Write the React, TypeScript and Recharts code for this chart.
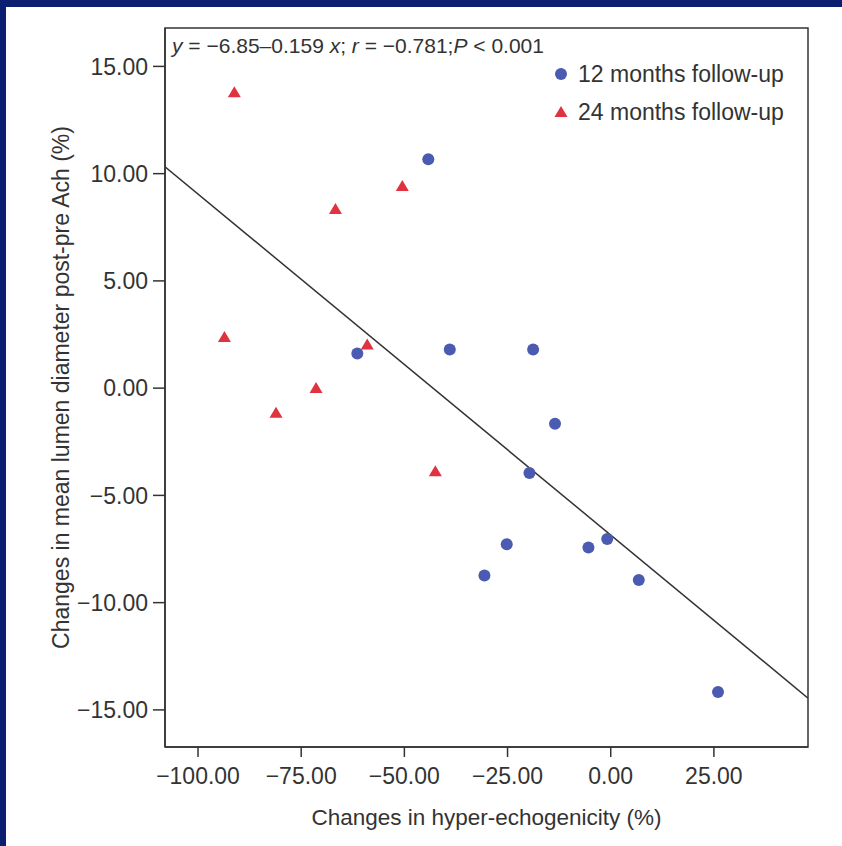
import React from 'react';
import { ScatterChart, Scatter, XAxis, YAxis, ReferenceLine, ReferenceArea, Legend } from 'recharts';

// 12 months follow-up (blue circles)
const months12X = [-44.2, -61.4, -39.0, -18.8, -13.5, -19.7, -25.2, -30.6, -5.4, -0.85, 6.8, 26.0];
const months12Y = [10.67, 1.62, 1.8, 1.8, -1.66, -3.96, -7.28, -8.74, -7.43, -7.03, -8.94, -14.17];
// 24 months follow-up (red triangles)
const months24X = [-91.2, -50.5, -66.7, -93.6, -59.0, -71.4, -81.1, -42.5];
const months24Y = [13.79, 9.42, 8.35, 2.39, 2.04, 0.01, -1.15, -3.87];

const xTicks = [-100, -75, -50, -25, 0, 25];
const yTicks = [-15, -10, -5, 0, 5, 10, 15];
const xDomain = [-108, 47.8];
const yDomain = [-16.73, 16.79];

// regression y = a + b x
const intercept = -6.85;
const slope = -0.159;

const BLUE = '#4b5bb1';
const RED = '#e0323f';
const NAVY = '#0b1e70';
const INK = '#333333';
const FONT = "'Liberation Sans', Arial, Helvetica, sans-serif";

const data12 = months12X.map((x, i) => ({ x, y: months12Y[i] }));
const data24 = months24X.map((x, i) => ({ x, y: months24Y[i] }));

const fmt = (v: number) => (v < 0 ? '\u2212' : '') + Math.abs(v).toFixed(2);

const Dot = (p: any) => <circle cx={p.cx} cy={p.cy} r={6} fill={BLUE} />;
const Tri = (p: any) => (
  <polygon
    points={`${p.cx},${p.cy - 6} ${p.cx - 6.5},${p.cy + 5} ${p.cx + 6.5},${p.cy + 5}`}
    fill={RED}
  />
);

const renderLegend = () => (
  <div style={{ fontFamily: FONT, fontSize: 23, color: INK, lineHeight: '38px' }}>
    <div style={{ display: 'flex', alignItems: 'center' }}>
      <svg width={26} height={16}>
        <circle cx={9} cy={8} r={6} fill={BLUE} />
      </svg>
      12 months follow-up
    </div>
    <div style={{ display: 'flex', alignItems: 'center' }}>
      <svg width={26} height={16}>
        <polygon points="9,2 2.5,13 15.5,13" fill={RED} />
      </svg>
      24 months follow-up
    </div>
  </div>
);

export default function App() {
  const fitLine = [
    { x: xDomain[0], y: intercept + slope * xDomain[0] },
    { x: xDomain[1], y: intercept + slope * xDomain[1] },
  ];

  return (
    <div style={{ position: 'absolute', left: 0, top: 0, width: 842, height: 846, background: NAVY }}>
      <div style={{ position: 'absolute', left: 6, top: 7, right: 0, bottom: 0, background: '#fff' }} />
      <div style={{ position: 'absolute', left: 0, top: 0 }}>
        <ScatterChart width={842} height={846} margin={{ top: 28, right: 34, bottom: 0, left: 0 }}>
          <XAxis
            type="number"
            dataKey="x"
            domain={xDomain}
            ticks={xTicks}
            allowDataOverflow
            tickFormatter={fmt}
            height={99}
            tickSize={10}
            tickMargin={11}
            stroke={INK}
            strokeWidth={1.5}
            tick={{ fill: INK, fontSize: 23, fontFamily: FONT }}
            label={{
              content: ({ viewBox }: any) => (
                <text
                  x={viewBox.x + viewBox.width / 2}
                  y={viewBox.y + 70}
                  textAnchor="middle"
                  dominantBaseline="central"
                  fill={INK}
                  fontSize={22.5}
                  fontFamily={FONT}
                >
                  Changes in hyper-echogenicity (%)
                </text>
              ),
            }}
          />
          <YAxis
            type="number"
            dataKey="y"
            domain={yDomain}
            ticks={yTicks}
            allowDataOverflow
            tickFormatter={fmt}
            width={165}
            tickSize={12}
            tickMargin={5}
            stroke={INK}
            strokeWidth={1.5}
            tick={{ fill: INK, fontSize: 23, fontFamily: FONT }}
            label={{
              content: ({ viewBox }: any) => {
                const cx = viewBox.x + 61;
                const cy = viewBox.y + viewBox.height / 2;
                return (
                  <text
                    x={cx}
                    y={cy}
                    transform={`rotate(-90, ${cx}, ${cy})`}
                    textAnchor="middle"
                    dominantBaseline="central"
                    fill={INK}
                    fontSize={23}
                    fontFamily={FONT}
                  >
                    Changes in mean lumen diameter post-pre Ach (%)
                  </text>
                );
              },
            }}
          />
          <ReferenceArea
            x1={xDomain[0]}
            x2={xDomain[1]}
            y1={yDomain[0]}
            y2={yDomain[1]}
            fill="none"
            stroke={INK}
            strokeWidth={1.5}
          />
          <ReferenceLine segment={fitLine} stroke={INK} strokeWidth={1.5} ifOverflow="hidden" />
          <Legend
            content={renderLegend}
            layout="horizontal"
            verticalAlign="middle"
            align="center"
            wrapperStyle={{ top: 55, left: 552, width: 260, height: 80 }}
          />
          <Scatter name="12 months follow-up" data={data12} shape={Dot} isAnimationActive={false} />
          <Scatter name="24 months follow-up" data={data24} shape={Tri} isAnimationActive={false} />
        </ScatterChart>
      </div>
      <div
        style={{
          position: 'absolute',
          left: 172,
          top: 34,
          fontFamily: FONT,
          fontSize: 21,
          color: INK,
          whiteSpace: 'nowrap',
        }}
      >
        <i>y</i> = {'\u2212'}6.85{'\u2013'}0.159 <i>x</i>; <i>r</i> = {'\u2212'}0.781;<i>P</i> {'<'} 0.001
      </div>
    </div>
  );
}
